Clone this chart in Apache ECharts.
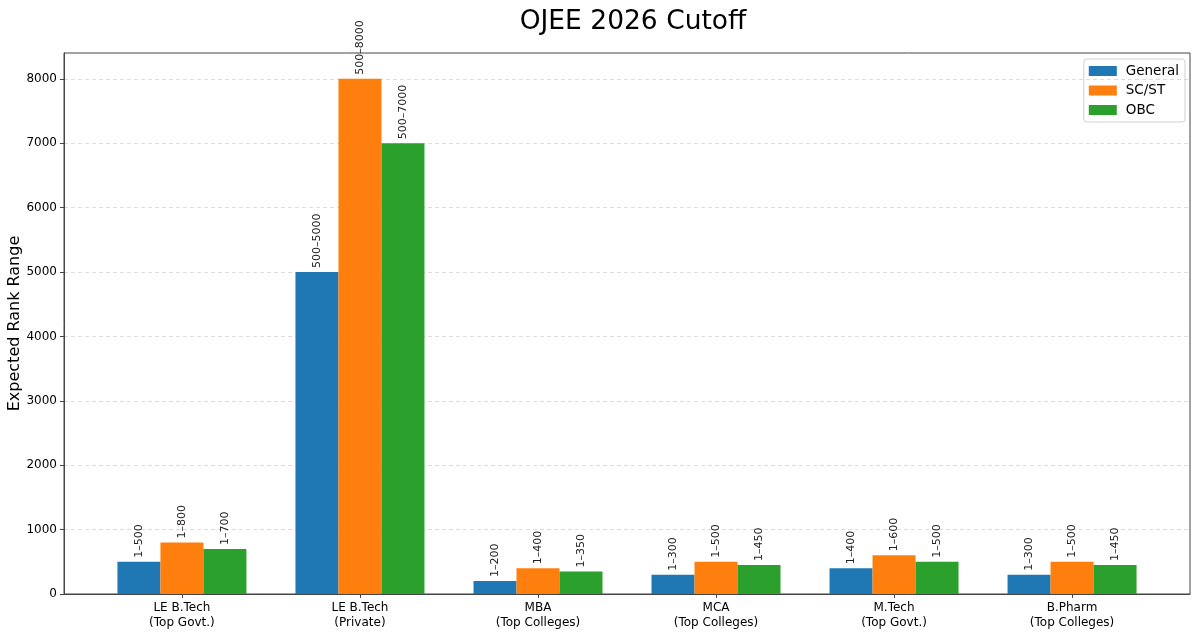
<!DOCTYPE html>
<html>
<head>
<meta charset="utf-8">
<script src="https://cdn.jsdelivr.net/npm/echarts@6/dist/echarts.min.js"></script>
<style>
  html, body { margin: 0; padding: 0; background: #fff; }
  #chart { width: 1200px; height: 636px; }
</style>
</head>
<body>
<div id="chart"></div>
<script>
// data
var categories = [
    'LE B.Tech\n(Top Govt.)',
    'LE B.Tech\n(Private)',
    'MBA\n(Top Colleges)',
    'MCA\n(Top Colleges)',
    'M.Tech\n(Top Govt.)',
    'B.Pharm\n(Top Colleges)'
];
var seriesNames = ['General', 'SC/ST', 'OBC'];
var generalValues = [500, 5000, 200, 300, 400, 300];
var scstValues = [800, 8000, 400, 500, 600, 500];
var obcValues = [700, 7000, 350, 450, 500, 450];
var generalLabels = ['1–500', '500–5000', '1–200', '1–300', '1–400', '1–300'];
var scstLabels = ['1–800', '500–8000', '1–400', '1–500', '1–600', '1–500'];
var obcLabels = ['1–700', '500–7000', '1–350', '1–450', '1–500', '1–450'];
var yTicks = [0, 1000, 2000, 3000, 4000, 5000, 6000, 7000, 8000];

var colors = ['#1f77b4', '#ff7f0e', '#2ca02c'];
var font = '"DejaVu Sans", sans-serif';

var chart = echarts.init(document.getElementById('chart'));

function makeSeries(name, values, labels, idx) {
    return {
        name: name,
        type: 'bar',
        barWidth: 43,
        barGap: '0%',
        itemStyle: { color: colors[idx] },
        label: {
            show: true,
            position: 'top',
            rotate: 90,
            align: 'left',
            verticalAlign: 'middle',
            distance: 4,
            fontFamily: font,
            fontSize: 11,
            color: '#222',
            formatter: function (p) { return labels[p.dataIndex]; }
        },
        data: values.map(function (v, i) { return [i, v]; })
    };
}

var xTicks = categories.map(function (c, i) { return i; });

var option = {
    animation: false,
    backgroundColor: '#fff',
    color: colors,
    title: {
        text: 'OJEE 2026 Cutoff',
        left: 628,
        textAlign: 'center',
        top: 4,
        textStyle: { fontFamily: font, fontSize: 26.5, fontWeight: 'normal', color: '#000' }
    },
    legend: {
        data: seriesNames,
        orient: 'vertical',
        right: 15,
        top: 59,
        itemWidth: 28,
        itemHeight: 10,
        itemGap: 5.5,
        padding: [5, 6, 5, 5],
        borderColor: '#d0d0d0',
        borderWidth: 1,
        borderRadius: 3,
        icon: 'rect',
        textStyle: { fontFamily: font, fontSize: 13.5, color: '#000', padding: [0, 0, 0, 4] }
    },
    grid: {
        left: 64,
        right: 10,
        top: 53,
        bottom: 42,
        outerBoundsMode: 'none',
        containLabel: false,
        show: true,
        borderColor: '#444',
        borderWidth: 1
    },
    xAxis: {
        type: 'value',
        min: -0.6625,
        max: 5.6625,
        splitLine: { show: false },
        axisLine: { show: true, onZero: false, lineStyle: { color: '#444' } },
        axisTick: { show: true, customValues: xTicks, length: 4, lineStyle: { color: '#444' } },
        axisLabel: {
            customValues: xTicks,
            fontFamily: font,
            fontSize: 12,
            color: '#000',
            lineHeight: 15,
            margin: 6,
            formatter: function (v) { return categories[Math.round(v)]; }
        }
    },
    yAxis: {
        type: 'value',
        min: 0,
        max: 8400,
        interval: 1000,
        name: 'Expected Rank Range',
        nameLocation: 'middle',
        nameGap: 41,
        nameMoveOverlap: false,
        nameTextStyle: { fontFamily: font, fontSize: 16, color: '#000' },
        axisLine: { show: true, onZero: false, lineStyle: { color: '#444' } },
        axisTick: { show: true, customValues: yTicks, length: 4, lineStyle: { color: '#444' } },
        axisLabel: {
            customValues: yTicks,
            fontFamily: font,
            fontSize: 12,
            color: '#000',
            margin: 7,
            formatter: function (v) { return String(v); }
        },
        splitLine: { show: true, lineStyle: { color: '#dcdcdc', type: [4, 3], width: 1 } }
    },
    series: [
        makeSeries(seriesNames[0], generalValues, generalLabels, 0),
        makeSeries(seriesNames[1], scstValues, scstLabels, 1),
        makeSeries(seriesNames[2], obcValues, obcLabels, 2)
    ]
};

chart.setOption(option);
</script>
</body>
</html>
